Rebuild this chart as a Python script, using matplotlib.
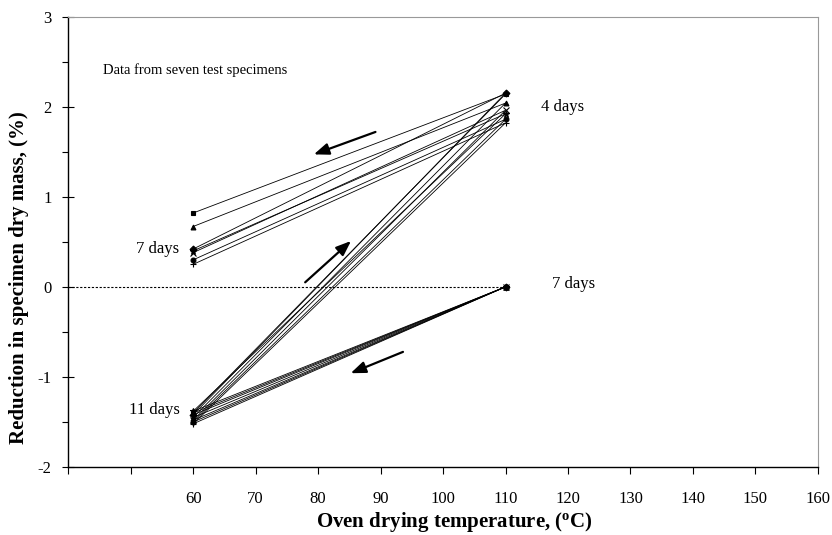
import numpy as np
import matplotlib
matplotlib.use('Agg')
import matplotlib.pyplot as plt
from matplotlib.ticker import MultipleLocator

plt.rcParams['font.family'] = ['Liberation Serif', 'DejaVu Serif']
plt.rcParams['mathtext.fontset'] = 'custom'
plt.rcParams['mathtext.rm'] = 'Liberation Serif'
plt.rcParams['mathtext.bf'] = 'Liberation Serif:bold'
plt.rcParams['axes.unicode_minus'] = False

# drying sequence: 110C (7 days) -> 60C (11 days) -> 110C (4 days) -> 60C (7 days)
temperatures = [110, 60, 110, 60]
specimen_values = {
    's': [0.0, -1.40, 2.14, 0.82],
    '^': [0.0, -1.45, 2.04, 0.67],
    'D': [0.0, -1.42, 2.15, 0.42],
    'x': [0.0, -1.48, 1.96, 0.38],
    '*': [0.0, -1.38, 1.92, 0.40],
    'o': [0.0, -1.50, 1.86, 0.30],
    '+': [0.0, -1.52, 1.82, 0.25],
}
x_ticks = list(range(40, 161, 10))
x_tick_labels = ['' if t < 60 else str(t) for t in x_ticks]

fig = plt.figure(figsize=(8.32, 5.35), dpi=100)
ax = fig.add_axes([0.082, 0.127, 0.901, 0.842])

for marker, vals in specimen_values.items():
    ax.plot(temperatures, vals, color='black', lw=0.6, marker=marker,
            ms=3.5 if marker not in ('x', '+', '*') else 4.5,
            mew=0.8, mfc='black', mec='black')

ax.plot([40, 110], [0, 0], color='black', lw=0.8, ls=(0, (2, 1.5)))

arrow_kw = dict(arrowstyle='-|>,head_length=0.9,head_width=0.35', color='black', lw=1.6)
ax.annotate('', xy=(78.9, 1.46), xytext=(89.6, 1.73), arrowprops=arrow_kw)
ax.annotate('', xy=(85.6, 0.53), xytext=(77.6, 0.03), arrowprops=arrow_kw)
ax.annotate('', xy=(84.8, -0.97), xytext=(94.0, -0.71), arrowprops=arrow_kw)

ax.text(45.5, 2.41, 'Data from seven test specimens', fontsize=10.5, va='center')
ax.text(115.7, 2.0, '4 days', fontsize=12, va='center')
ax.text(57.8, 0.42, '7 days', fontsize=12, va='center', ha='right')
ax.text(117.5, 0.03, '7 days', fontsize=12, va='center')
ax.text(57.8, -1.37, '11 days', fontsize=12, va='center', ha='right')

ax.set_xlim(40, 160)
ax.set_ylim(-2, 3)
ax.set_xticks(x_ticks)
ax.set_xticklabels(x_tick_labels, fontsize=12)
ax.yaxis.set_major_locator(MultipleLocator(1))
ax.yaxis.set_minor_locator(MultipleLocator(0.5))
ax.tick_params(axis='y', which='major', direction='inout', length=8, labelsize=12, width=0.8, pad=8)
ax.tick_params(axis='y', which='minor', direction='out', length=4, width=0.8)
ax.tick_params(axis='x', which='major', direction='out', length=5, width=0.8, pad=12)

for side in ('top', 'right'):
    ax.spines[side].set_color('#999999')
    ax.spines[side].set_linewidth(0.8)
for side in ('left', 'bottom'):
    ax.spines[side].set_linewidth(1.0)

ax.set_xlabel('Oven drying temperature, ($\\mathbf{^{o}}$C)', fontsize=15, fontweight='bold')
ax.set_ylabel('Reduction in specimen dry mass, (%)', fontsize=15, fontweight='bold')
ax.xaxis.label.set_va('center')
ax.xaxis.set_label_coords(0.515, -0.122)
ax.yaxis.set_label_coords(-0.052, 0.42)

fig.savefig('out.png', dpi=100)
